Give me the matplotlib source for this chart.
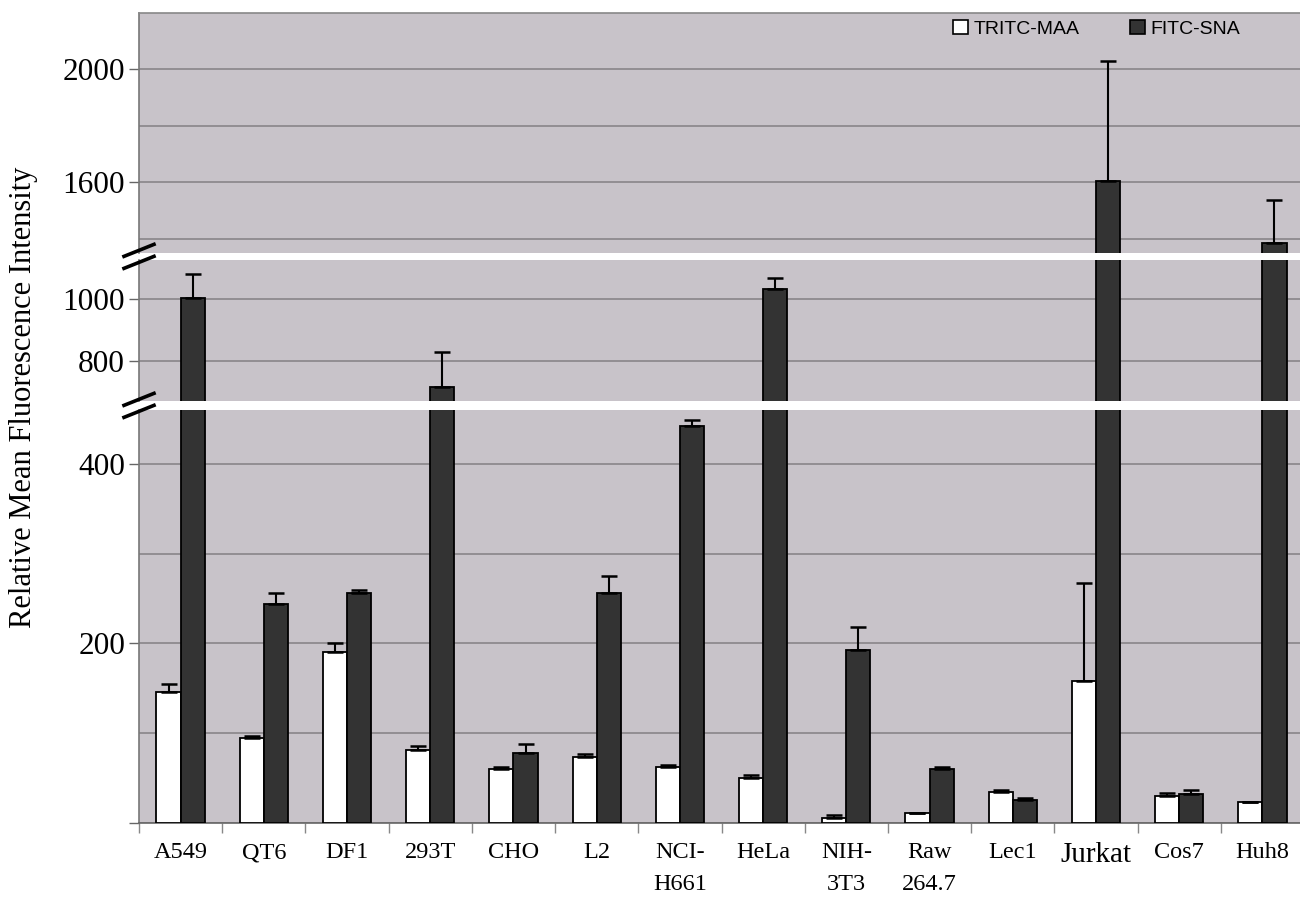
import numpy as np
import matplotlib
matplotlib.use("Agg")
import matplotlib.pyplot as plt
from matplotlib.lines import Line2D
from matplotlib.patches import Patch

categories = ['A549', 'QT6', 'DF1', '293T', 'CHO', 'L2', 'NCI-\nH661', 'HeLa',
              'NIH-\n3T3', 'Raw\n264.7', 'Lec1', 'Jurkat', 'Cos7', 'Huh8']
tritc = [146, 95, 190, 81, 60, 74, 62, 50, 6, 11, 35, 158, 30, 23]
tritc_err = [9, 1.5, 10, 5, 2, 3, 3, 3, 3, 0, 2, 109, 3, 0]
fitc = [1005, 244, 256, 717, 78, 256, 442, 1031, 193, 60, 26, 1605, 32, 1383]
fitc_err = [75, 12, 4, 113, 10, 19, 7, 38, 25, 2, 2, 426, 5, 155]
series_names = ['TRITC-MAA', 'FITC-SNA']

seg_limits = [(1350, 2200), (672, 1126), (0, 460)]
seg_major = [[1600, 2000], [800, 1000], [0, 200, 400]]
seg_major_labels = [['1600', '2000'], ['800', '1000'], ['', '200', '400']]
seg_minor = [[1400, 1800], [], [100, 300]]

BG = '#c8c3c9'
GRID = '#8e8a8e'
DARK = '#333333'
W = 1300.0
H = 897.0

fig = plt.figure(figsize=(13, 8.97), dpi=100)
left = 139 / W
width = 1165 / W
pos = [(0.7183, 0.2672), (0.5533, 0.1568), (0.0825, 0.4604)]
axes = [fig.add_axes([left, b, width, h]) for b, h in pos]

x = np.arange(len(categories)) + 0.5
bw = 0.29

for i, ax in enumerate(axes):
    ax.set_facecolor(BG)
    ax.bar(x - bw / 2, tritc, bw, color='white', edgecolor='black', linewidth=1.3, zorder=3)
    ax.bar(x + bw / 2, fitc, bw, color=DARK, edgecolor='black', linewidth=1.3, zorder=3)
    ax.errorbar(x - bw / 2, tritc, yerr=[np.zeros(len(tritc)), tritc_err], fmt='none',
                ecolor='black', elinewidth=1.5, capsize=6, capthick=1.8, zorder=4)
    ax.errorbar(x + bw / 2, fitc, yerr=[np.zeros(len(fitc)), fitc_err], fmt='none',
                ecolor='black', elinewidth=1.5, capsize=6, capthick=1.8, zorder=4)
    ax.set_ylim(*seg_limits[i])
    ax.set_xlim(0, len(categories))
    ax.set_yticks(seg_major[i])
    ax.set_yticklabels(seg_major_labels[i], fontfamily='Liberation Serif', fontsize=22.5)
    ax.set_yticks(seg_minor[i], minor=True)
    ax.tick_params(axis='y', which='major', length=7, width=1.0, color='#666666', pad=3)
    ax.tick_params(axis='y', which='minor', length=0)
    ax.grid(axis='y', which='both', color=GRID, linewidth=1.3, zorder=1)
    ax.set_axisbelow(True)
    for s in ['top', 'bottom', 'right']:
        ax.spines[s].set_visible(False)
    ax.spines['left'].set_color('#777777')
    ax.spines['left'].set_linewidth(1.2)
    if i < 2:
        ax.set_xticks([])

axes[0].spines['top'].set_visible(True)
axes[0].spines['top'].set_color('#888888')
axes[0].spines['top'].set_linewidth(1.2)

axb = axes[2]
axb.spines['bottom'].set_visible(True)
axb.spines['bottom'].set_color('#666666')
axb.spines['bottom'].set_linewidth(1.2)
axb.set_xticks(np.arange(len(categories) + 1))
axb.set_xticklabels([])
axb.set_xticks(x, minor=True)
labels = axb.set_xticklabels(categories, minor=True, fontfamily='Liberation Serif',
                             fontsize=17.5, linespacing=1.65)
for lab in labels:
    if lab.get_text() == 'Jurkat':
        lab.set_fontsize(21)
axb.tick_params(axis='x', which='major', length=7, width=1.0, color='#888888', direction='out')
axb.tick_params(axis='x', which='minor', length=0, pad=14)

# break marks
def break_marks(y_frac):
    dx = 15 / W
    dy = 6 / H
    for off in (6 / H, -6 / H):
        yc = y_frac + off
        fig.add_artist(Line2D([left - dx, left + dx], [yc - dy, yc + dy],
                              transform=fig.transFigure, color='black', linewidth=2.6))

gap1 = (pos[0][0] + pos[1][0] + pos[1][1]) / 2
gap2 = (pos[1][0] + pos[2][0] + pos[2][1]) / 2
break_marks(gap1)
break_marks(gap2)

# legend
handles = [Patch(facecolor='white', edgecolor='black', linewidth=1.2),
           Patch(facecolor=DARK, edgecolor='black', linewidth=1.2)]
fig.legend(handles, series_names, loc='upper left', bbox_to_anchor=(953 / W, (H - 20) / H),
           ncol=2, frameon=False, prop={'family': 'Liberation Sans', 'size': 14},
           handlelength=0.75, handleheight=0.75, handletextpad=0.3, columnspacing=2.6,
           borderpad=0, borderaxespad=0)

fig.text(24 / W, (H - 397) / H, 'Relative Mean Fluorescence Intensity', rotation=90,
         ha='center', va='center', fontfamily='Liberation Serif', fontsize=22)

fig.savefig('out.png', dpi=100)
